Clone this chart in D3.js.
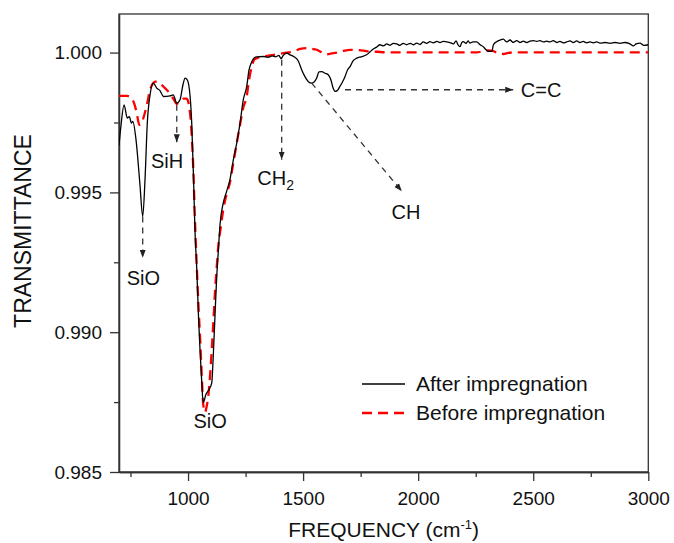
<!DOCTYPE html>
<html>
<head>
<meta charset="utf-8">
<script src="https://cdn.jsdelivr.net/npm/d3@7"></script>
<style>
    body { margin: 0; background: #fff; }
    text { font-family: "Liberation Sans", Arial, sans-serif; fill: #111; }
    .axis path, .axis line { stroke: #333; stroke-width: 1.3; }
    .axis text { font-size: 19px; fill: #111; font-family: "Liberation Sans", Arial, sans-serif; }
</style>
</head>
<body>
<script>
var w = 674;
var h = 543;
var plotLeft = 119, plotRight = 648.3, plotTop = 14, plotBottom = 472;

//After impregnation (black solid)
var afterFreq = [700, 709, 722, 736, 745, 754, 760, 774, 791, 803, 813, 823, 835, 849, 864, 878, 893, 922, 936, 951,
    965, 978, 987, 997, 1009, 1016, 1024, 1030, 1038, 1046, 1052, 1059, 1066, 1078, 1091, 1103, 1109, 1117, 1124, 1132,
    1139, 1153, 1167, 1182, 1197, 1212, 1226, 1240, 1255, 1265, 1277, 1287, 1299, 1327, 1348, 1365, 1382, 1395, 1404, 1414,
    1429, 1443, 1461, 1479, 1494, 1508, 1523, 1537, 1547, 1559, 1569, 1581, 1595, 1610, 1621, 1630, 1639, 1647, 1660, 1671,
    1682, 1693, 1704, 1717, 1733, 1752, 1776, 1791, 1805, 1820, 1834, 1849, 1863, 1878, 1892, 1907, 1921, 1935, 1950, 1965,
    1979, 1993, 2008, 2022, 2037, 2051, 2066, 2081, 2095, 2109, 2124, 2138, 2153, 2165, 2173, 2182, 2189, 2196, 2208, 2217,
    2225, 2238, 2254, 2269, 2283, 2295, 2305, 2320, 2327, 2341, 2356, 2370, 2385, 2399, 2413, 2428, 2442, 2457, 2472, 2486,
    2501, 2515, 2529, 2544, 2558, 2573, 2587, 2602, 2616, 2631, 2645, 2660, 2674, 2689, 2703, 2717, 2732, 2747, 2761, 2776,
    2790, 2812, 2834, 2855, 2877, 2898, 2920, 2935, 2947, 2964, 2981, 3000];
var afterT = [0.99667, 0.99742, 0.99813, 0.99766, 0.99771, 0.99748, 0.99754, 0.99688, 0.99528, 0.99414, 0.99545, 0.99748, 0.99849, 0.99891, 0.99873, 0.99864, 0.99843, 0.99845, 0.99849, 0.99819,
    0.99831, 0.99885, 0.99909, 0.99902, 0.99843, 0.99748, 0.99545, 0.99367, 0.99224, 0.99045, 0.98938, 0.98830, 0.98748, 0.98778, 0.98795, 0.98819, 0.98903, 0.99057, 0.99188, 0.99295,
    0.99385, 0.99462, 0.99502, 0.99545, 0.99617, 0.99678, 0.99748, 0.99831, 0.99879, 0.99938, 0.99967, 0.99981, 0.99985, 0.99986, 0.99983, 0.99988, 0.99985, 0.99990, 0.99978, 0.99990,
    0.99998, 0.99992, 0.99985, 0.99970, 0.99938, 0.99914, 0.99896, 0.99891, 0.99894, 0.99909, 0.99931, 0.99932, 0.99926, 0.99920, 0.99902, 0.99874, 0.99861, 0.99863, 0.99879, 0.99895,
    0.99914, 0.99938, 0.99950, 0.99970, 0.99980, 0.99985, 0.99992, 1.00003, 1.00013, 1.00020, 1.00028, 1.00024, 1.00031, 1.00026, 1.00033, 1.00031, 1.00026, 1.00033, 1.00028, 1.00033,
    1.00028, 1.00034, 1.00029, 1.00038, 1.00033, 1.00039, 1.00035, 1.00040, 1.00036, 1.00040, 1.00038, 1.00036, 1.00031, 1.00042, 1.00028, 1.00021, 1.00035, 1.00039, 1.00033, 1.00042,
    1.00034, 1.00038, 1.00038, 1.00028, 1.00021, 1.00010, 1.00004, 1.00004, 1.00028, 1.00039, 1.00045, 1.00048, 1.00038, 1.00045, 1.00036, 1.00043, 1.00036, 1.00041, 1.00036, 1.00041,
    1.00043, 1.00040, 1.00043, 1.00038, 1.00041, 1.00038, 1.00043, 1.00036, 1.00040, 1.00035, 1.00038, 1.00042, 1.00036, 1.00042, 1.00036, 1.00040, 1.00035, 1.00038, 1.00035, 1.00038,
    1.00034, 1.00036, 1.00033, 1.00036, 1.00033, 1.00036, 1.00031, 1.00024, 1.00031, 1.00034, 1.00026, 1.00028];

//Before impregnation (red dashed)
var beforeFreq = [700, 735, 752, 765, 777, 788, 798, 806, 821, 835, 846, 857, 870, 883, 896, 907, 922, 936, 951, 965,
    980, 994, 1006, 1012, 1017, 1023, 1030, 1038, 1045, 1052, 1060, 1066, 1074, 1080, 1088, 1096, 1103, 1110, 1117, 1125,
    1132, 1139, 1153, 1167, 1182, 1197, 1212, 1226, 1240, 1255, 1265, 1277, 1287, 1299, 1327, 1371, 1414, 1457, 1487, 1516,
    1537, 1559, 1581, 1603, 1624, 1646, 1675, 1704, 1733, 1762, 1791, 1820, 1863, 2000, 2254, 2283, 2305, 2327, 2349, 2370,
    2392, 2428, 2700, 3000];
var beforeT = [0.99845, 0.99845, 0.99838, 0.99820, 0.99785, 0.99742, 0.99745, 0.99766, 0.99813, 0.99867, 0.99888, 0.99896, 0.99895, 0.99886, 0.99876, 0.99867, 0.99853, 0.99835, 0.99817, 0.99825,
    0.99835, 0.99835, 0.99801, 0.99754, 0.99688, 0.99581, 0.99402, 0.99236, 0.99099, 0.98986, 0.98838, 0.98742, 0.98713, 0.98731, 0.98771, 0.98849, 0.98938, 0.99035, 0.99142, 0.99236,
    0.99313, 0.99356, 0.99438, 0.99492, 0.99535, 0.99606, 0.99678, 0.99742, 0.99803, 0.99843, 0.99902, 0.99950, 0.99974, 0.99980, 0.99986, 0.99992, 0.99998, 1.00004, 1.00013, 1.00016,
    1.00014, 1.00010, 1.00001, 0.99994, 0.99997, 1.00000, 1.00006, 1.00010, 1.00009, 1.00007, 1.00004, 1.00003, 1.00001, 1.00001, 1.00001, 1.00005, 1.00008, 1.00005, 0.99997, 0.99995,
    0.99999, 1.00001, 1.00001, 1.00001];

var xTicks = [1000, 1500, 2000, 2500, 3000];
var xMinor = [750, 1250, 1750, 2250, 2750];
var yTicks = [0.985, 0.990, 0.995, 1.000];
var yMinor = [0.9875, 0.9925, 0.9975];

//Band annotations: arrow start, arrow end, label position
var bandNames = ["SiO", "SiH", "CH", "CH", "C=C"];
var bandSub = ["", "", "2", "", ""];
var bandFrom = [[803, 0.99414], [951, 0.99813], [1407, 0.99974], [1537, 0.99891], [1682, 0.99867]];
var bandTo = [[803, 0.99266], [951, 0.99679], [1407, 0.99617], [1929, 0.99504], [2413, 0.99867]];
var bandLabel = [[806, 0.99170], [909, 0.99587], [1301, 0.99527], [1947, 0.99406], [2446, 0.99841]];
var bandAnchor = ["middle", "middle", "start", "middle", "start"];

var seriesNames = ["After impregnation", "Before impregnation"];

var xScale = d3.scaleLinear().domain([700, 3000]).range([plotLeft, plotRight]);
var yScale = d3.scaleLinear().domain([0.985, 1.00138]).range([plotBottom, plotTop]);

var svg = d3.select("body")
    .append("svg")
    .attr("width", w)
    .attr("height", h);

var defs = svg.append("defs");
defs.append("clipPath")
    .attr("id", "plotclip")
    .append("rect")
    .attr("x", plotLeft).attr("y", plotTop)
    .attr("width", plotRight - plotLeft).attr("height", plotBottom - plotTop);

defs.append("marker")
    .attr("id", "arrow")
    .attr("viewBox", "0 -4 8 8")
    .attr("refX", 8).attr("refY", 0)
    .attr("markerWidth", 8).attr("markerHeight", 8)
    .attr("markerUnits", "userSpaceOnUse")
    .attr("orient", "auto")
    .append("path")
    .attr("d", "M0,-3L8,0L0,3Z")
    .attr("fill", "#222");

//Axes
var xaxis = d3.axisBottom(xScale).tickValues(xTicks).tickSize(9).tickSizeOuter(0).tickPadding(11).tickFormat(d3.format("d"));
var xaxisMinor = d3.axisBottom(xScale).tickValues(xMinor).tickSize(5).tickSizeOuter(0).tickFormat("");
var yaxis = d3.axisLeft(yScale).tickValues(yTicks).tickSize(9).tickSizeOuter(0).tickPadding(8).tickFormat(d3.format(".3f"));
var yaxisMinor = d3.axisLeft(yScale).tickValues(yMinor).tickSize(5).tickSizeOuter(0).tickFormat("");

svg.append("g").attr("class", "axis")
    .attr("transform", "translate(0," + plotBottom + ")")
    .call(xaxis);
svg.append("g").attr("class", "axis")
    .attr("transform", "translate(0," + plotBottom + ")")
    .call(xaxisMinor);
svg.append("g").attr("class", "axis")
    .attr("transform", "translate(" + plotLeft + ",0)")
    .call(yaxis);
svg.append("g").attr("class", "axis")
    .attr("transform", "translate(" + plotLeft + ",0)")
    .call(yaxisMinor);

//frame
svg.append("rect")
    .attr("x", plotLeft).attr("y", plotTop)
    .attr("width", plotRight - plotLeft).attr("height", plotBottom - plotTop)
    .attr("fill", "none")
    .attr("stroke", "#333")
    .attr("stroke-width", 1.3);

//axis titles
var xTitle = svg.append("text")
    .attr("x", (plotLeft + plotRight) / 2)
    .attr("y", 537)
    .attr("text-anchor", "middle")
    .attr("font-size", "21px");
xTitle.append("tspan").text("FREQUENCY (cm");
xTitle.append("tspan").attr("dy", -8).attr("font-size", "13px").text("-1");
xTitle.append("tspan").attr("dy", 8).text(")");

svg.append("text")
    .attr("transform", "translate(31,231) rotate(-90)")
    .attr("text-anchor", "middle")
    .attr("font-size", "23px")
    .text("TRANSMITTANCE");

//lines
var line = d3.line()
    .x(function (d) { return xScale(d[0]); })
    .y(function (d) { return yScale(d[1]); })
    .curve(d3.curveMonotoneX);

var plot = svg.append("g").attr("clip-path", "url(#plotclip)");

plot.append("path")
    .datum(beforeFreq.map(function (f, i) { return [f, beforeT[i]]; }))
    .attr("d", line)
    .attr("fill", "none")
    .attr("stroke", "#ff0000")
    .attr("stroke-width", 2.3)
    .attr("stroke-dasharray", "10,6");

plot.append("path")
    .datum(afterFreq.map(function (f, i) { return [f, afterT[i]]; }))
    .attr("d", line)
    .attr("fill", "none")
    .attr("stroke", "#000")
    .attr("stroke-width", 1.3);

//band arrows
svg.selectAll("line.band")
    .data(bandNames)
    .enter()
    .append("line")
    .attr("class", "band")
    .attr("x1", function (d, i) { return xScale(bandFrom[i][0]); })
    .attr("y1", function (d, i) { return yScale(bandFrom[i][1]); })
    .attr("x2", function (d, i) { return xScale(bandTo[i][0]); })
    .attr("y2", function (d, i) { return yScale(bandTo[i][1]); })
    .attr("stroke", "#333")
    .attr("stroke-width", 1.3)
    .attr("stroke-dasharray", "6,5")
    .attr("marker-end", "url(#arrow)");

svg.selectAll("text.band")
    .data(bandNames)
    .enter()
    .append("text")
    .attr("class", "band")
    .attr("x", function (d, i) { return xScale(bandLabel[i][0]); })
    .attr("y", function (d, i) { return yScale(bandLabel[i][1]); })
    .attr("text-anchor", function (d, i) { return bandAnchor[i]; })
    .attr("font-size", "20px")
    .each(function (d, i) {
        d3.select(this).append("tspan").text(d);
        if (bandSub[i] !== "") {
            d3.select(this).append("tspan").attr("dy", 5).attr("font-size", "14px").text(bandSub[i]);
        }
    });

//main SiO band label
svg.append("text")
    .attr("x", xScale(1096))
    .attr("y", yScale(0.98659))
    .attr("text-anchor", "middle")
    .attr("font-size", "20px")
    .text("SiO");

//legend
var legend = svg.append("g").attr("transform", "translate(362,384)");
legend.selectAll("line")
    .data(seriesNames)
    .enter()
    .append("line")
    .attr("x1", 0).attr("x2", 43)
    .attr("y1", function (d, i) { return i * 29; })
    .attr("y2", function (d, i) { return i * 29; })
    .attr("stroke", function (d, i) { return i === 0 ? "#000" : "#ff0000"; })
    .attr("stroke-width", function (d, i) { return i === 0 ? 1.3 : 2.3; })
    .attr("stroke-dasharray", function (d, i) { return i === 0 ? null : "10,6"; });
legend.selectAll("text")
    .data(seriesNames)
    .enter()
    .append("text")
    .attr("x", 54)
    .attr("y", function (d, i) { return i * 29 + 7; })
    .attr("font-size", "21px")
    .text(function (d) { return d; });
</script>
</body>
</html>
